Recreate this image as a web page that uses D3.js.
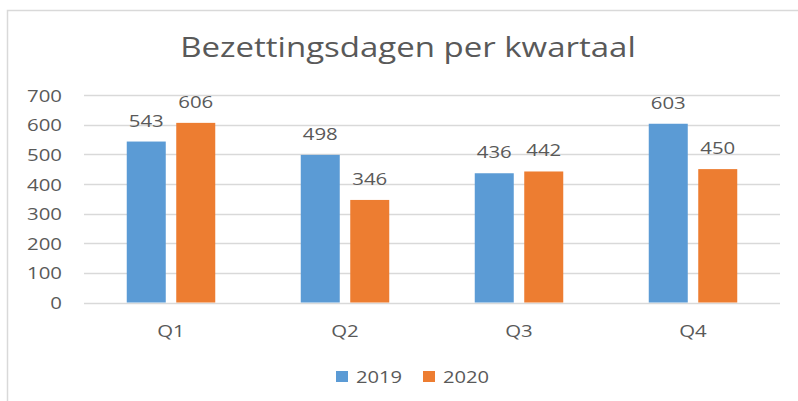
<!DOCTYPE html>
<html><head><meta charset="utf-8">
<script src="https://cdn.jsdelivr.net/npm/d3@7"></script>
<style>body{margin:0;background:#fff;} svg{display:block;} text{font-family:"Open Sans",sans-serif;fill:#595959;}</style>
</head><body>
<svg id="c" width="798" height="401"></svg>
<script>
const title = "Bezettingsdagen per kwartaal";
const categories = ["Q1","Q2","Q3","Q4"];
const seriesNames = ["2019","2020"];
const values2019 = [543, 498, 436, 603];
const values2020 = [606, 346, 442, 450];
const yTicks = [0,100,200,300,400,500,600,700];
const colors = ["#5B9BD5","#ED7D31"];

(function(){
const SX = 1.2;
const svg = d3.select("#c");
const pLeft = 84, pRight = 780, pTop = 95, pBottom = 302.5;

svg.append("rect").attr("x",7.5).attr("y",10.5).attr("width",820).attr("height",420)
  .attr("fill","#fff").attr("stroke","#D9D9D9").attr("stroke-width",1.5);

const y = d3.scaleLinear().domain([0,700]).range([pBottom, pTop]);
const x0 = d3.scaleBand().domain(categories).range([pLeft, pRight]).padding(0);
const groupW = 88.5;
const x1 = d3.scaleBand().domain(seriesNames).range([(x0.bandwidth()-groupW)/2, (x0.bandwidth()+groupW)/2]).paddingInner(0.212).paddingOuter(0);

// gridlines
svg.append("g").selectAll("line").data(yTicks).join("line")
  .attr("x1",pLeft).attr("x2",pRight)
  .attr("y1",d=>Math.round(y(d))+0.5).attr("y2",d=>Math.round(y(d))+0.5)
  .attr("stroke","#D9D9D9").attr("stroke-width",1.3);

// y axis
const yAxis = svg.append("g").attr("transform",`translate(${pLeft},0)`)
  .call(d3.axisLeft(y).tickValues(yTicks).tickSize(0).tickPadding(0));
yAxis.select(".domain").remove();
yAxis.selectAll("text").attr("x",0).attr("dy","0.36em")
  .attr("transform",`translate(-22,0) scale(${SX},1)`)
  .style("font-size","17px").style("font-family","'Open Sans',sans-serif").attr("fill","#595959");

// x axis
const xAxis = svg.append("g").attr("transform",`translate(0,${pBottom})`)
  .call(d3.axisBottom(x0).tickSize(0).tickPadding(0));
xAxis.select(".domain").remove();
xAxis.selectAll("text").attr("y",0).attr("dy",0)
  .attr("transform",`translate(0,34.5) scale(${SX},1)`)
  .style("font-size","17px").style("font-family","'Open Sans',sans-serif").attr("fill","#595959");

const data = categories.map((c,i)=>({cat:c, vals:[{s:"2019",v:values2019[i]},{s:"2020",v:values2020[i]}]}));
const groups = svg.append("g").selectAll("g").data(data).join("g")
  .attr("transform",d=>`translate(${x0(d.cat)},0)`);
groups.selectAll("rect").data(d=>d.vals).join("rect")
  .attr("x",d=>x1(d.s)).attr("width",x1.bandwidth())
  .attr("y",d=>y(d.v)).attr("height",d=>y(0)-y(d.v))
  .attr("fill",(d,i)=>colors[i]);
groups.selectAll("text").data(d=>d.vals).join("text")
  .attr("text-anchor","middle")
  .attr("transform",d=>`translate(${x1(d.s)+x1.bandwidth()/2},${y(d.v)-15}) scale(${SX},1)`)
  .style("font-size","17px").text(d=>d.v);

// title
svg.append("text").attr("text-anchor","middle")
  .attr("transform",`translate(408,57) scale(${SX},1)`)
  .style("font-size","27.5px").text(title);

// legend
const legendX = [336, 423];
const lg = svg.append("g").selectAll("g").data(seriesNames).join("g");
lg.append("rect").attr("x",(d,i)=>legendX[i]).attr("y",371).attr("width",12).attr("height",11)
  .attr("fill",(d,i)=>colors[i]);
lg.append("text").attr("transform",(d,i)=>`translate(${legendX[i]+20},382.5) scale(${SX},1)`)
  .style("font-size","16.8px").text(d=>d);
})();
</script>
</body></html>
